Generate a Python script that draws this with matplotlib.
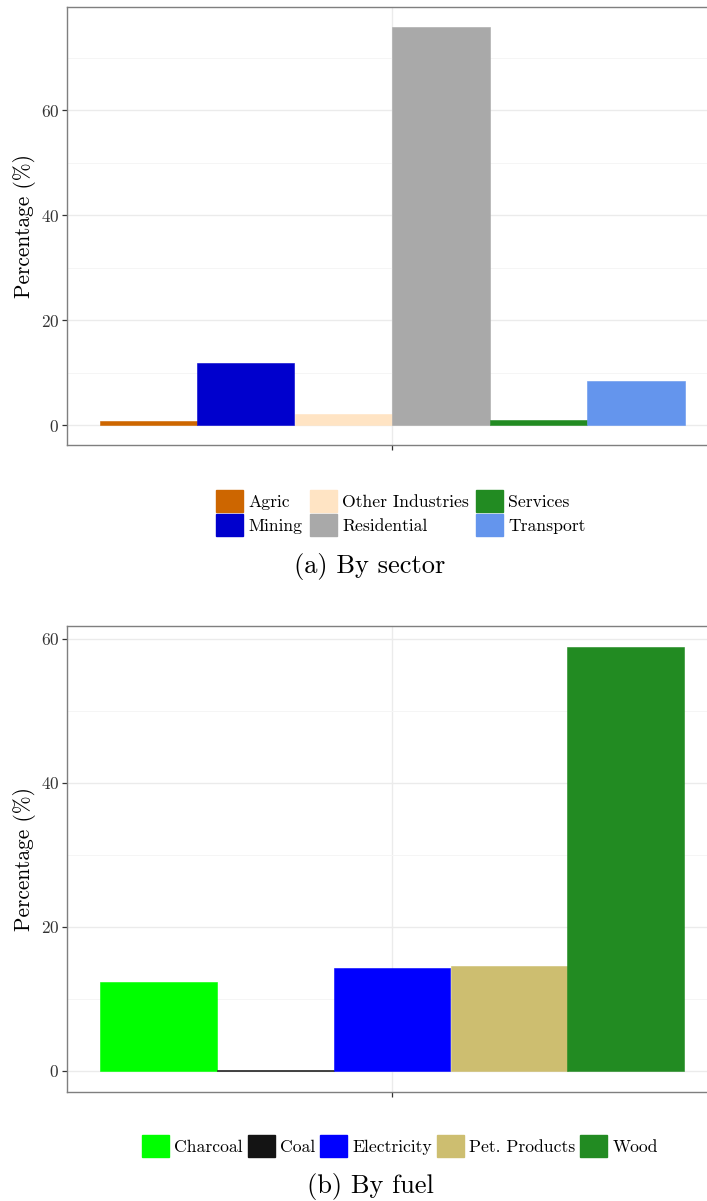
import matplotlib
matplotlib.use("Agg")
import matplotlib.pyplot as plt
from matplotlib.patches import Patch
from matplotlib.ticker import MultipleLocator

plt.rcParams['font.family'] = ['cmr10', 'DejaVu Serif']
plt.rcParams['axes.formatter.use_mathtext'] = True

# datos panel (a): por sector
sectores = ['Agric', 'Mining', 'Other Industries', 'Residential', 'Services', 'Transport']
pct_sector = [0.7, 11.9, 2.2, 75.9, 0.9, 8.4]
col_sector = ['#CD6600', '#0000CD', '#FFE4C4', '#A9A9A9', '#228B22', '#6495ED']

# datos panel (b): por combustible
fuels = ['Charcoal', 'Coal', 'Electricity', 'Pet. Products', 'Wood']
pct_fuel = [12.3, 0.1, 14.3, 14.5, 58.8]
col_fuel = ['#00FF00', '#141414', '#0000FF', '#CDBE70', '#228B22']

W, H = 707, 1201
fig = plt.figure(figsize=(W / 100, H / 100), dpi=100)


def panel(top, bottom, vals, cols, ymax):
    ax = fig.add_axes([67 / W, (H - bottom) / H, 650 / W, (bottom - top) / H])
    n = len(vals)
    w = 0.9 / n
    xs = [1 - 0.45 + w * (i + 0.5) for i in range(n)]
    ax.bar(xs, vals, width=w, color=cols, edgecolor=cols, linewidth=0.4, zorder=3)
    ax.set_xlim(0.5, 1.5)
    ax.set_ylim(-0.05 * ymax, ymax * 1.05)
    ax.set_xticks([1])
    ax.set_xticklabels([''])
    ax.yaxis.set_major_locator(MultipleLocator(20))
    ax.yaxis.set_minor_locator(MultipleLocator(10))
    ax.grid(which='major', color='#ebebeb', linewidth=1.0, zorder=0)
    ax.grid(which='minor', axis='y', color='#f5f5f5', linewidth=0.7, zorder=0)
    ax.tick_params(axis='y', which='minor', length=0)
    ax.tick_params(which='major', length=3.5, width=0.9, color='#333333',
                   labelsize=12.5, labelcolor='#333333', pad=2)
    for s in ax.spines.values():
        s.set_color('#7f7f7f')
        s.set_linewidth(1.0)
    ax.set_ylabel('Percentage (%)', fontsize=15.4)
    ax.yaxis.set_label_coords(-0.047, 0.5)
    return ax


ax1 = panel(7, 445, pct_sector, col_sector, max(pct_sector))
ax2 = panel(626, 1092, pct_fuel, col_fuel, max(pct_fuel))

h1 = [Patch(color=c, label=l) for c, l in zip(col_sector, sectores)]
fig.legend(handles=h1, loc='center', bbox_to_anchor=(401 / W, 1 - 513 / H), ncol=3,
           frameon=False, fontsize=12.7, handlelength=1.53, handleheight=1.53,
           handletextpad=0.3, labelspacing=0.11, columnspacing=0.4, borderpad=0)

h2 = [Patch(color=c, label=l) for c, l in zip(col_fuel, fuels)]
fig.legend(handles=h2, loc='center', bbox_to_anchor=(400 / W, 1 - 1146 / H), ncol=5,
           frameon=False, fontsize=12.7, handlelength=1.53, handleheight=1.53,
           handletextpad=0.3, labelspacing=0.1, columnspacing=0.28, borderpad=0)

fig.text(370 / W, 1 - 567 / H, '(a) By sector', ha='center', va='center', fontsize=19)
fig.text(370 / W, 1 - 1187 / H, '(b) By fuel', ha='center', va='center', fontsize=19)

plt.savefig('out.png', dpi=100)
plt.close()
